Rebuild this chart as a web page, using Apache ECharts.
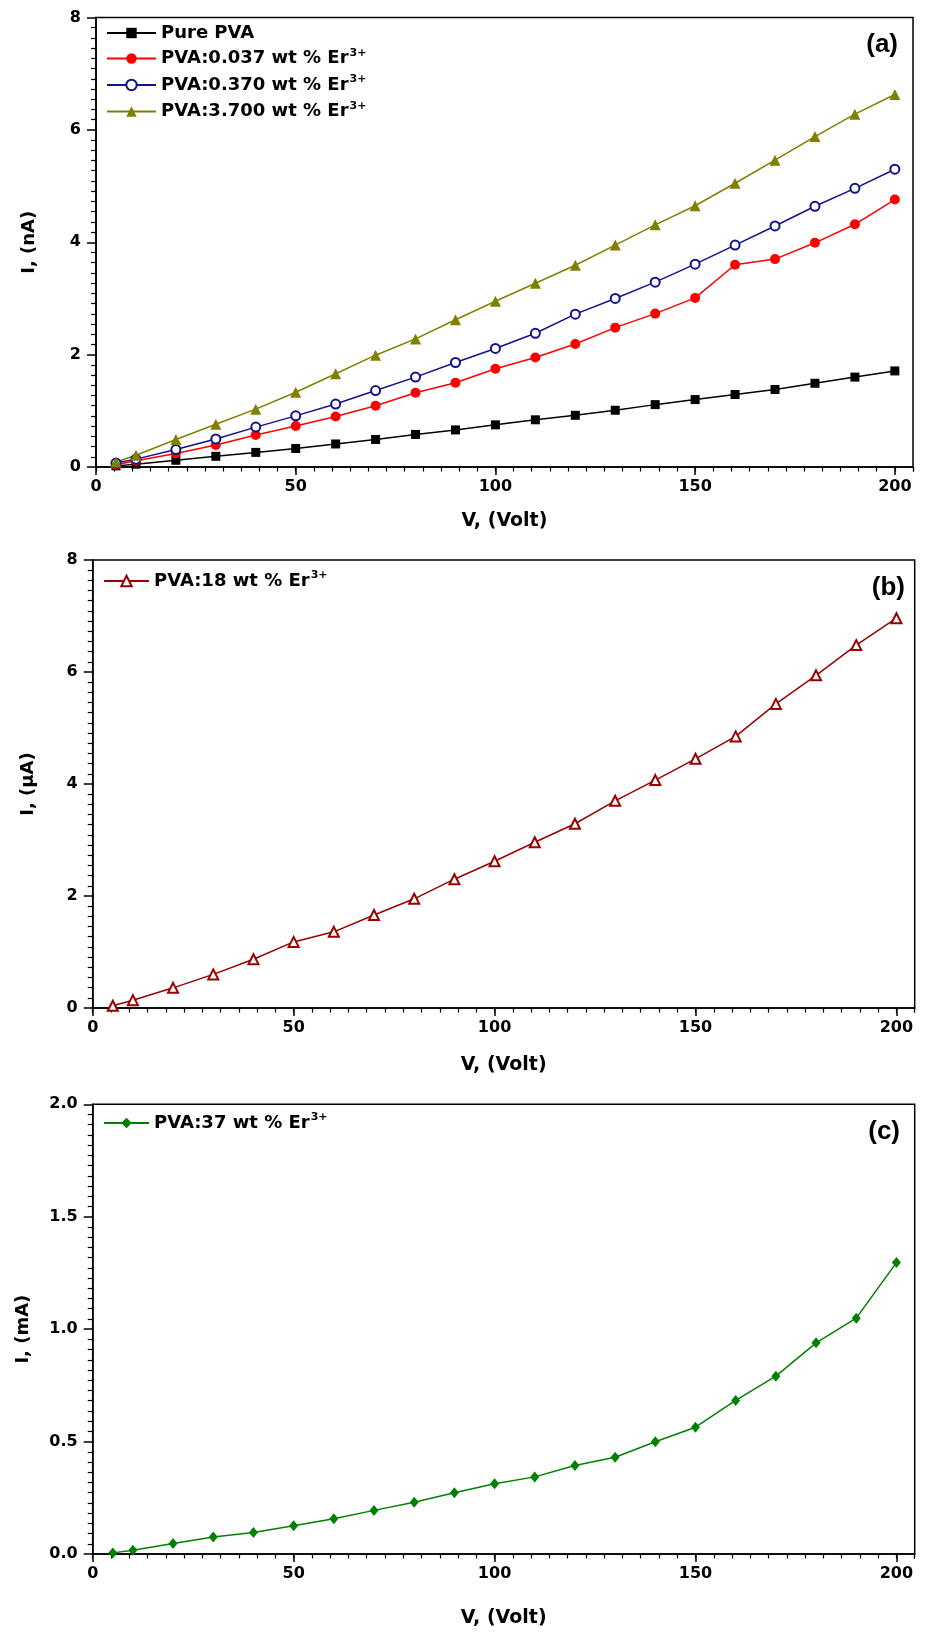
<!DOCTYPE html>
<html>
<head>
<meta charset="utf-8">
<title>I-V curves PVA:Er</title>
<script src="https://cdn.jsdelivr.net/npm/echarts@6/dist/echarts.min.js"></script>
<style>
  html, body { margin: 0; padding: 0; background: #fff; }
  #chart { width: 927px; height: 1635px; }
</style>
</head>
<body>
<div id="chart"></div>
<script>
  // applied voltage, V
  let voltage = [5, 10, 20, 30, 40, 50, 60, 70, 80, 90, 100, 110, 120, 130, 140, 150, 160, 170, 180, 190, 200];

  // panel (a), current in nA
  let purePVA = [0.02, 0.05, 0.12, 0.19, 0.26, 0.33, 0.41, 0.49, 0.58, 0.66, 0.75, 0.84, 0.92, 1.01, 1.11, 1.20, 1.29, 1.38, 1.49, 1.60, 1.71];
  let er0037 = [0.04, 0.11, 0.24, 0.39, 0.57, 0.73, 0.90, 1.09, 1.32, 1.50, 1.75, 1.95, 2.19, 2.48, 2.73, 3.01, 3.60, 3.70, 3.99, 4.32, 4.76];
  let er0370 = [0.07, 0.14, 0.31, 0.50, 0.71, 0.91, 1.12, 1.36, 1.60, 1.86, 2.11, 2.38, 2.72, 3.00, 3.29, 3.61, 3.95, 4.29, 4.64, 4.96, 5.30];
  let er3700 = [0.09, 0.21, 0.49, 0.76, 1.03, 1.33, 1.66, 1.99, 2.28, 2.62, 2.95, 3.27, 3.59, 3.95, 4.31, 4.65, 5.05, 5.46, 5.88, 6.28, 6.63];

  // panel (b), current in uA
  let er18 = [0.04, 0.14, 0.36, 0.60, 0.87, 1.18, 1.36, 1.66, 1.95, 2.30, 2.62, 2.96, 3.29, 3.70, 4.07, 4.45, 4.85, 5.43, 5.94, 6.48, 6.96];

  // panel (c), current in mA
  let er37 = [0.005, 0.017, 0.047, 0.076, 0.096, 0.126, 0.157, 0.194, 0.230, 0.272, 0.312, 0.343, 0.394, 0.430, 0.499, 0.564, 0.683, 0.791, 0.939, 1.049, 1.296];

  let xMajorTicks = [0, 50, 100, 150, 200];
  let panelLetters = ['(a)', '(b)', '(c)'];

  const XMAX = 2250 / 11;   // axis runs one minor step past 200
  const X_MINOR = 50 / 11;
  const FONT = 'DejaVu Sans';

  function pairs(arr) {
    return voltage.map(function (v, i) {
      return [v, arr[i]];
    });
  }

  function xAxes(gi, nameGap) {
    return [{
      type: 'value',
      gridIndex: gi,
      position: 'bottom',
      min: 0,
      max: XMAX,
      interval: 50,
      name: 'V, (Volt)',
      nameLocation: 'middle',
      nameGap: nameGap,
      nameTextStyle: { fontFamily: FONT, fontWeight: 'bold', fontSize: 19, color: '#000' },
      axisLine: { onZero: false, lineStyle: { color: '#000', width: 1.5 } },
      axisTick: { length: 8, customValues: xMajorTicks, lineStyle: { color: '#000', width: 1.5 } },
      axisLabel: {
        margin: 12, color: '#000', fontFamily: FONT, fontWeight: 'bold', fontSize: 16,
        customValues: xMajorTicks
      },
      splitLine: { show: false }
    }, {
      // minor ticks only
      type: 'value',
      gridIndex: gi,
      position: 'bottom',
      min: 0,
      max: XMAX,
      interval: X_MINOR,
      axisLine: { show: false, onZero: false },
      axisTick: { length: 4.5, lineStyle: { color: '#000', width: 1.2 } },
      axisLabel: { show: false },
      splitLine: { show: false }
    }];
  }

  function yAxis(gi, max, interval, name, nameGap, digits) {
    return {
      type: 'value',
      gridIndex: gi,
      min: 0,
      max: max,
      interval: interval,
      name: name,
      nameLocation: 'middle',
      nameGap: nameGap,
      nameTextStyle: { fontFamily: FONT, fontWeight: 'bold', fontSize: 18, color: '#000' },
      axisLine: { onZero: false, lineStyle: { color: '#000', width: 1.5 } },
      axisTick: { length: 9, lineStyle: { color: '#000', width: 1.5 } },
      minorTick: { show: true, splitNumber: 11, length: 5, lineStyle: { color: '#000', width: 1.2 } },
      axisLabel: {
        margin: 15, color: '#000', fontFamily: FONT, fontWeight: 'bold', fontSize: 16,
        formatter: function (v) { return v.toFixed(digits); }
      },
      splitLine: { show: false },
      minorSplitLine: { show: false }
    };
  }

  function legendName(name) {
    if (name.slice(-2) === '3+') {
      return '{t|' + name.slice(0, -2) + '}{s|3+}';
    }
    return '{t|' + name + '}';
  }

  let legendText = {
    rich: {
      t: { fontFamily: FONT, fontWeight: 'bold', fontSize: 18, lineHeight: 20, color: '#000' },
      s: { fontFamily: FONT, fontWeight: 'bold', fontSize: 11, lineHeight: 11, color: '#000', verticalAlign: 'bottom', padding: [0, 0, 10, 1] }
    }
  };

  function lineSeries(name, data, xi, yi, color, symbol, size) {
    return {
      type: 'line',
      name: name,
      xAxisIndex: xi,
      yAxisIndex: yi,
      data: pairs(data),
      symbol: symbol,
      symbolSize: size,
      lineStyle: { color: color, width: 1.5 },
      itemStyle: { color: color, borderWidth: 1.5 },
      z: 3
    };
  }

  let chart = echarts.init(document.getElementById('chart'), null, { renderer: 'canvas' });

  let gridBase = { show: true, borderColor: '#000', borderWidth: 1.5, backgroundColor: 'transparent', outerBoundsMode: 'none' };

  let option = {
    backgroundColor: '#fff',
    animation: false,
    title: panelLetters.map(function (t, i) {
      return {
        text: t,
        right: [29, 22, 27][i],
        top: [32, 575, 1119][i],
        padding: 0,
        textStyle: { fontFamily: 'Liberation Sans', fontWeight: 'bold', fontSize: 26, color: '#000' }
      };
    }),
    grid: [
      Object.assign({ left: 96, top: 17.5, width: 817, height: 449.5 }, gridBase),
      Object.assign({ left: 92.7, top: 560, width: 822, height: 448 }, gridBase),
      Object.assign({ left: 92.7, top: 1104.3, width: 822, height: 449.7 }, gridBase)
    ],
    xAxis: [].concat(xAxes(0, 45), xAxes(1, 48), xAxes(2, 55)),
    yAxis: [
      yAxis(0, 8, 2, 'I, (nA)', 58, 0),
      yAxis(1, 8, 2, 'I, (\u03bcA)', 55, 0),
      yAxis(2, 2, 0.5, 'I, (mA)', 60, 1)
    ],
    legend: [{
      left: 106, top: 24, orient: 'vertical', padding: 0,
      itemWidth: 49, itemHeight: 13, itemGap: 5.5, selectedMode: false,
      data: ['Pure PVA', 'PVA:0.037 wt % Er3+', 'PVA:0.370 wt % Er3+', 'PVA:3.700 wt % Er3+'],
      formatter: legendName, textStyle: legendText
    }, {
      left: 103, top: 570, padding: 0,
      itemWidth: 45, itemHeight: 13, selectedMode: false,
      data: ['PVA:18 wt % Er3+'],
      formatter: legendName, textStyle: legendText
    }, {
      left: 103, top: 1112, padding: 0,
      itemWidth: 45, itemHeight: 13, selectedMode: false,
      data: ['PVA:37 wt % Er3+'],
      formatter: legendName, textStyle: legendText
    }],
    series: [
      lineSeries('Pure PVA', purePVA, 0, 0, '#000000', 'rect', 9),
      lineSeries('PVA:0.037 wt % Er3+', er0037, 0, 0, '#ff0000', 'circle', 10),
      lineSeries('PVA:0.370 wt % Er3+', er0370, 0, 0, '#12128c', 'emptyCircle', 9),
      lineSeries('PVA:3.700 wt % Er3+', er3700, 0, 0, '#808000', 'triangle', 11),
      lineSeries('PVA:18 wt % Er3+', er18, 2, 1, '#990000', 'emptyTriangle', 10),
      lineSeries('PVA:37 wt % Er3+', er37, 4, 2, '#008000', 'diamond', [9, 11])
    ]
  };

  chart.setOption(option);
</script>
</body>
</html>
